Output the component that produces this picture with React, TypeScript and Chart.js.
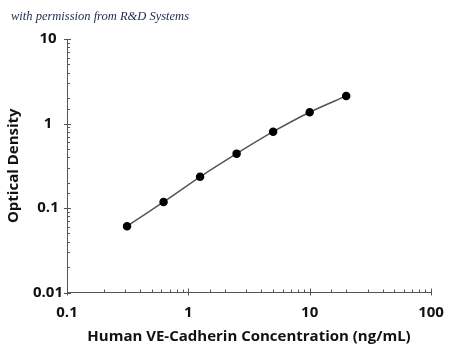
import React, { useEffect, useRef } from "react";
import { Chart, registerables } from "chart.js";

Chart.register(...registerables);

const concentrations = [0.3125, 0.625, 1.25, 2.5, 5, 10, 20];
const opticalDensity = [0.061, 0.118, 0.234, 0.44, 0.8, 1.36, 2.12];
const xTickValues = [0.1, 1, 10, 100];
const xTickLabels = ["0.1", "1", "10", "100"];
const yTickValues = [0.01, 0.1, 1, 10];
const yTickLabels = ["0.01", "0.1", "1", "10"];
const xTitle = "Human VE-Cadherin Concentration (ng/mL)";
const yTitle = "Optical Density";
const watermark = "with permission from R&D Systems";

const FONT = "'Open Sans', 'Noto Sans', sans-serif";

function labelFor(v: number, vals: number[], labels: string[]) {
  for (let i = 0; i < vals.length; i++) {
    if (Math.abs(Math.log10(v) - Math.log10(vals[i])) < 1e-6) return labels[i];
  }
  return "";
}

function isMajor(v: number) {
  const l = Math.log10(v);
  return Math.abs(l - Math.round(l)) < 1e-6;
}

const insideTicks = {
  id: "insideTicks",
  afterDraw(chart: any) {
    const ctx = chart.ctx;
    const xs = chart.scales.x;
    const ys = chart.scales.y;
    const area = chart.chartArea;
    ctx.save();
    ctx.strokeStyle = "#555";
    ctx.lineWidth = 1;
    ctx.beginPath();
    for (const t of xs.ticks) {
      const px = Math.round(xs.getPixelForValue(t.value)) + 0.5;
      const major = isMajor(t.value);
      ctx.moveTo(px, area.bottom + (major ? 3 : 0));
      ctx.lineTo(px, area.bottom - (major ? 4 : 3));
    }
    for (const t of ys.ticks) {
      const py = Math.round(ys.getPixelForValue(t.value)) + 0.5;
      const major = isMajor(t.value);
      ctx.moveTo(area.left - (major ? 3 : 0), py);
      ctx.lineTo(area.left + (major ? 4 : 3), py);
    }
    ctx.stroke();
    ctx.restore();
  },
};

export default function App() {
  const ref = useRef<HTMLCanvasElement>(null);
  useEffect(() => {
    if (!ref.current) return;
    const chart = new Chart(ref.current, {
      type: "line",
      data: {
        datasets: [
          {
            data: concentrations.map((x, i) => ({ x, y: opticalDensity[i] })),
            borderColor: "#555",
            borderWidth: 1.5,
            pointBackgroundColor: "#000",
            pointBorderColor: "#000",
            pointRadius: 3.5,
            tension: 0.3,
            fill: false,
          },
        ],
      },
      options: {
        animation: false,
        responsive: true,
        maintainAspectRatio: false,
        layout: { padding: { top: 39, right: 19, left: 0, bottom: 0 } },
        plugins: { legend: { display: false }, tooltip: { enabled: false } },
        scales: {
          x: {
            type: "logarithmic",
            min: 0.1,
            max: 100,
            grid: { display: false, drawTicks: false },
            border: { display: true, color: "#555", width: 1 },
            ticks: {
              autoSkip: false,
              maxRotation: 0,
              padding: 11,
              color: "#111",
              font: { family: FONT, size: 15, weight: "bold" },
              callback: (v: any) => labelFor(Number(v), xTickValues, xTickLabels),
            },
            title: {
              display: true,
              text: xTitle,
              color: "#111",
              font: { family: FONT, size: 15, weight: "bold" },
              padding: { top: 0, bottom: 4 },
            },
            afterFit: (s: any) => {
              s.height = 57.5;
              s.paddingLeft = 0;
              s.paddingRight = 0;
            },
          },
          y: {
            type: "logarithmic",
            min: 0.01,
            max: 10,
            grid: { display: false, drawTicks: false },
            border: { display: true, color: "#555", width: 1 },
            ticks: {
              autoSkip: false,
              padding: 4,
              crossAlign: "center",
              color: "#111",
              font: { family: FONT, size: 15, weight: "bold" },
              callback: (v: any) => labelFor(Number(v), yTickValues, yTickLabels),
            },
            title: {
              display: true,
              text: yTitle,
              color: "#111",
              font: { family: FONT, size: 15, weight: "bold" },
              padding: { top: 5, bottom: 0 },
            },
            afterFit: (s: any) => {
              s.width = 67;
              s.paddingTop = 0;
              s.paddingBottom = 0;
            },
          },
        },
      },
      plugins: [insideTicks],
    } as any);
    return () => chart.destroy();
  }, []);
  return (
    <div style={{ position: "absolute", left: 0, top: 0, width: 450, height: 350, background: "#fff" }}>
      <canvas ref={ref} />
      <div
        style={{
          position: "absolute",
          left: 11,
          top: 9,
          fontFamily: "'Liberation Serif', 'DejaVu Serif', serif",
          fontStyle: "italic",
          fontSize: 12.5,
          color: "#1c2a4a",
          whiteSpace: "nowrap",
        }}
      >
        {watermark}
      </div>
    </div>
  );
}
